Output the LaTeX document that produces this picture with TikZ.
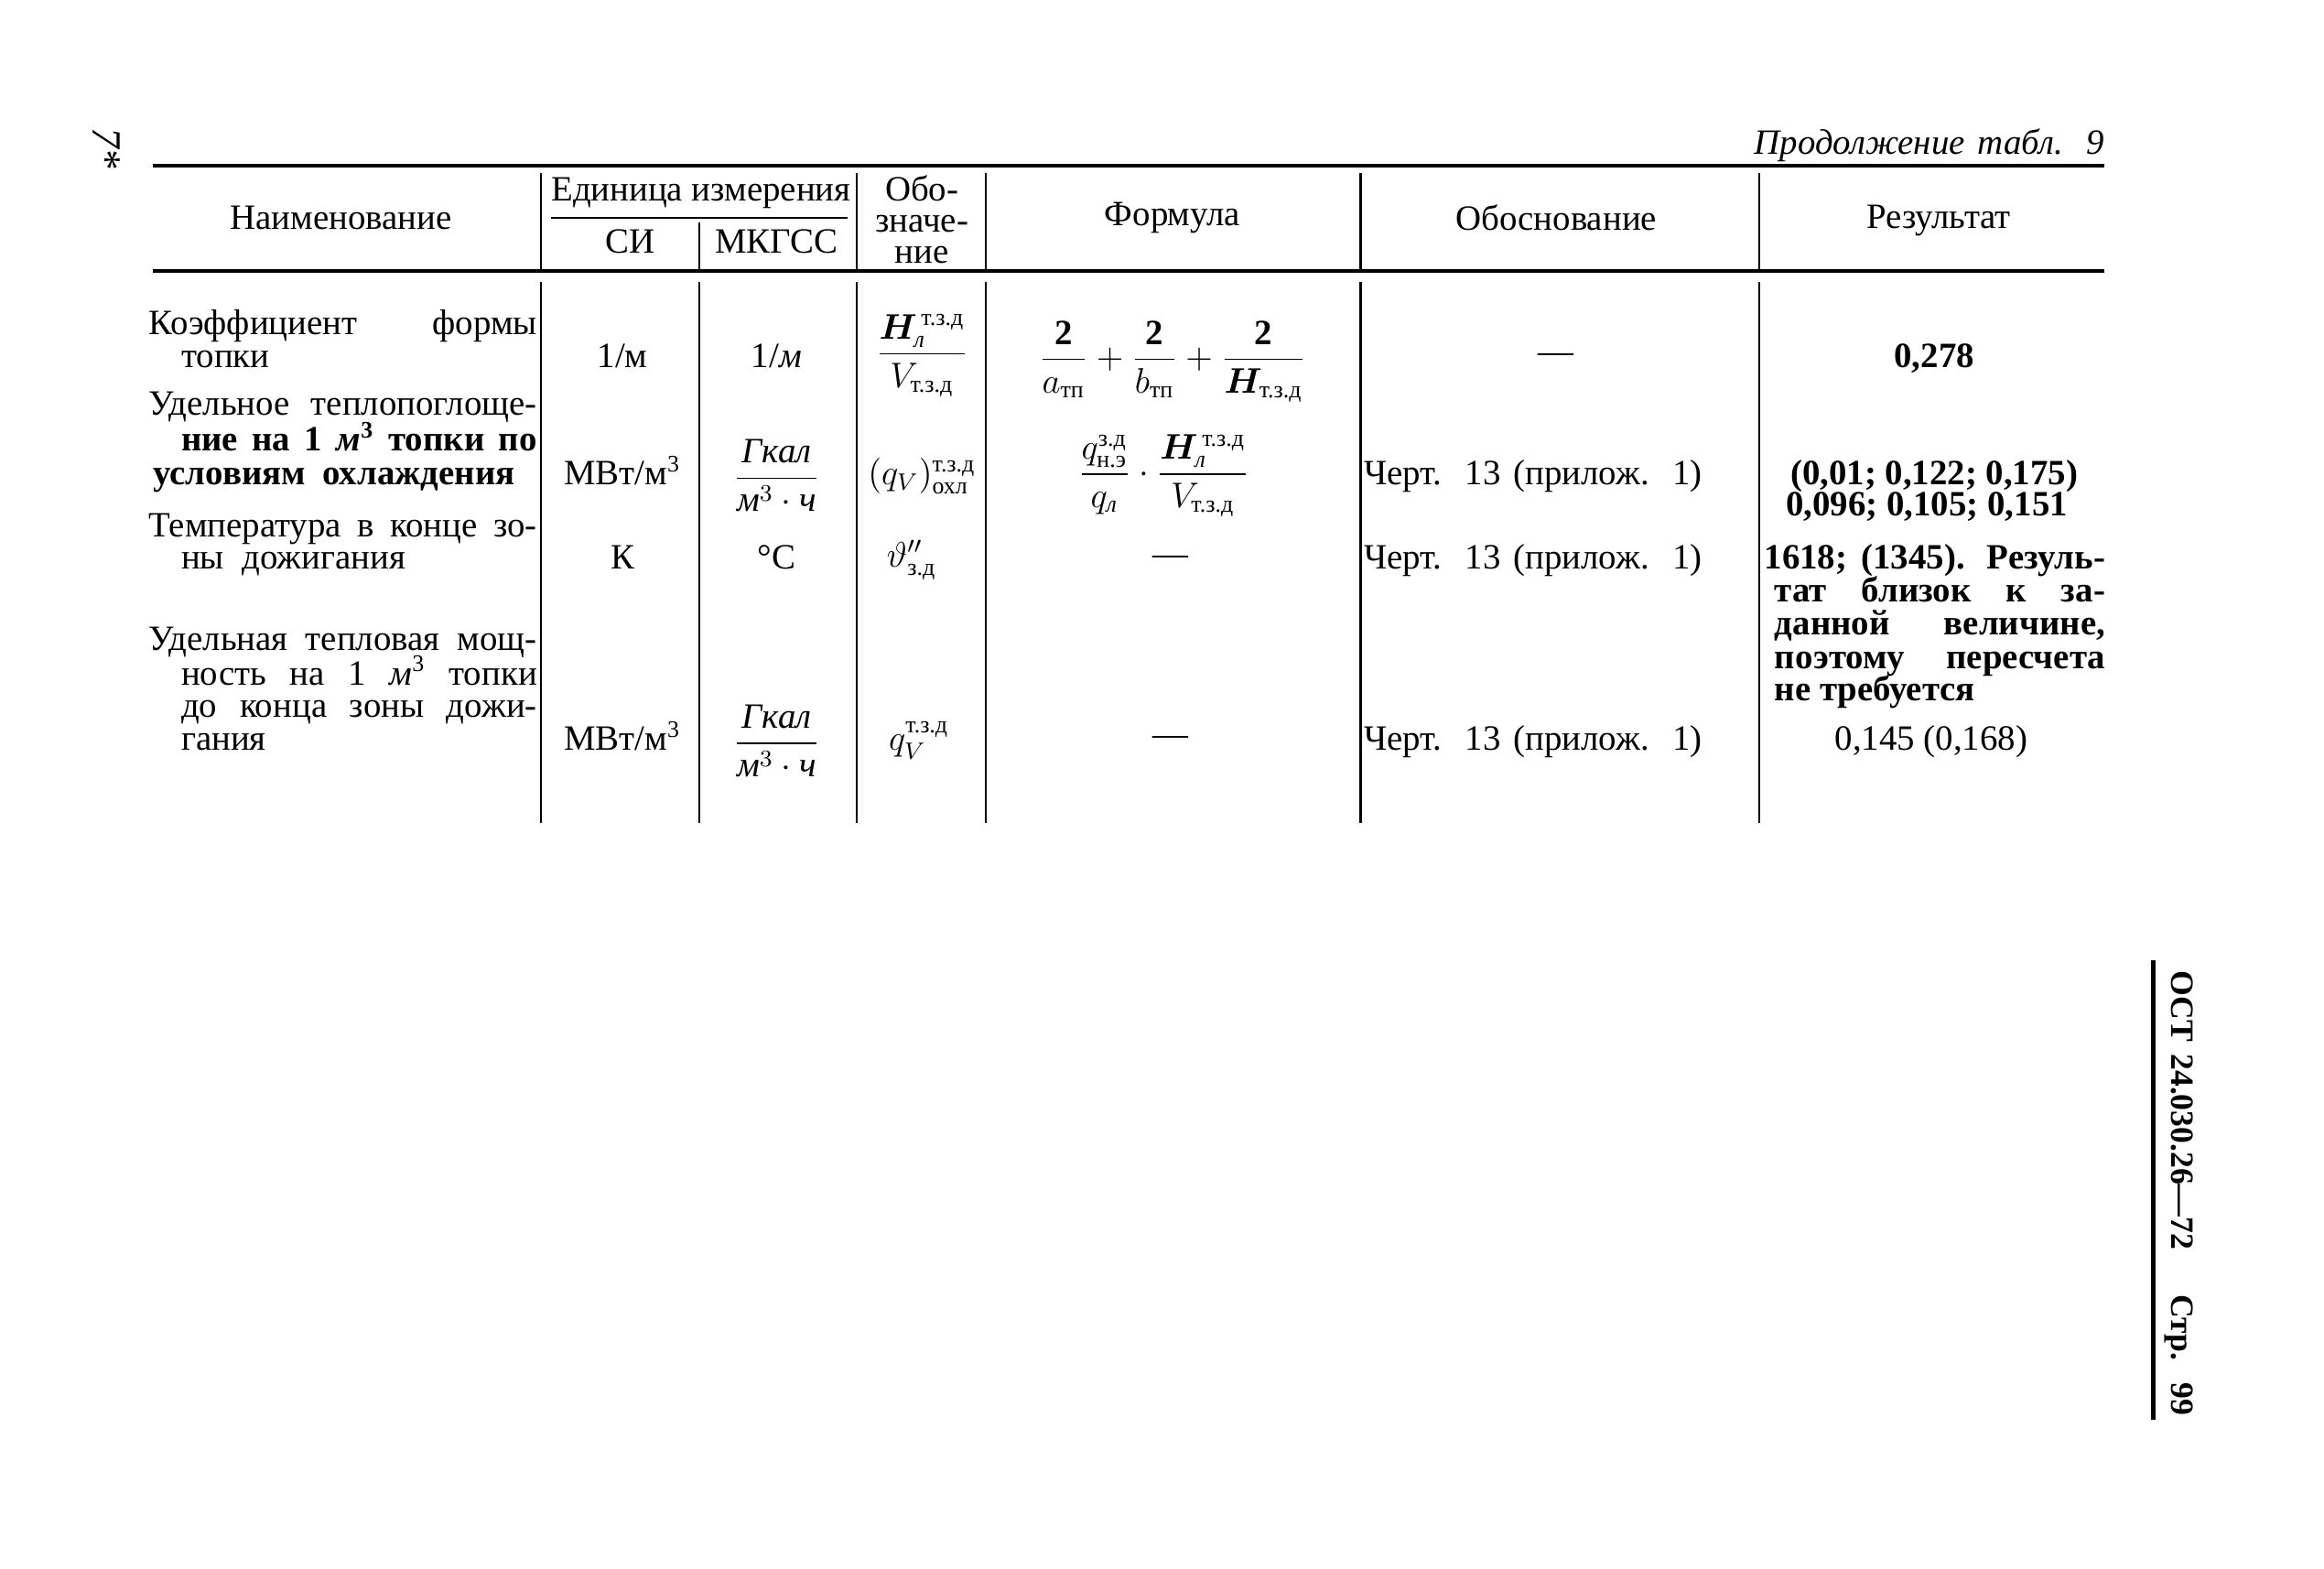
\documentclass[tikz,border=0pt]{standalone}
\usepackage{amsmath}
\usepackage{bm}
\usepackage{fontspec}
\setmainfont{Liberation Serif}
\usepackage{tikz}
\usetikzlibrary{positioning}

% stretch a line of text to a given width
\newcommand{\jline}[2]{\makebox[#1][s]{#2}}

\tikzset{
  txt/.style={inner sep=0pt, font=\fontsize{12pt}{11pt}\selectfont},
  heavyrule/.style={line width=1.3pt},
  subrule/.style={line width=0.9pt},
  colline/.style={line width=0.7pt},
}

\begin{document}
\begin{tikzpicture}[x=0.5pt,y=-0.5pt]
      \useasboundingbox (0,0) rectangle (1568,1058);

      % Page marks
      \node[txt, rotate=-90, font=\fontsize{14pt}{14pt}\selectfont\itshape] (pgmark) at (72,100) {7*};
      \node[txt, anchor=base east] (cont) at (1420,104) {\jline{118pt}{\itshape Продолжение табл. 9}};

      % Rules of the header
      \draw[heavyrule] (103,112) -- (1420,112);
      \draw[heavyrule] (103,183) -- (1420,183);
      \draw[subrule] (372,147) -- (572,147);

      % Column lines:
      % header part and body part are drawn apart
      \foreach \cx in {365,578,665,918,1187}
        \draw[colline] (\cx,117) -- (\cx,183);
      \draw[colline] (472,150) -- (472,183);
      \foreach \cx in {365,472,578,665,918,1187}
        \draw[colline] (\cx,190) -- (\cx,555);

      % Header texts
      \node[txt] (hname) at (230,147) {Наименование};
      \node[txt] (hunit) at (473,130) {Единица измерения};
      \node[txt] (hsi) at (425,163) {СИ};
      \node[txt] (hmkgss) at (524,163) {МКГСС};
      \node[txt, align=center, font=\fontsize{12pt}{10.5pt}\selectfont] (hsym) at (622,148) {Обо-\\значе-\\ние};
      \node[txt] (hformula) at (791,147) {Формула};
      \node[txt] (hbasis) at (1050,147) {Обоснование};
      \node[txt] (hresult) at (1308,149) {Результат};

      % Row 1
      \node[txt, anchor=base west] (nameA1) at (100,226) {\jline{131pt}{Коэффициент формы}};
      \node[txt, anchor=base west] (nameA2) at (122,248) {топки};
      \node[txt, anchor=base] (siA) at (420,248) {1/м};
      \node[txt, anchor=base] (mkA) at (524,248) {1/\textit{м}};
      \node[txt] (symA) at (622,240) {$\dfrac{\bm{H}_{\text{\itshape л}}^{\,\text{т.з.д}}}{V_{\text{т.з.д}}}$};
      \node[txt] (formA) at (791,244) {$\dfrac{\mathbf{2}}{a_{\text{тп}}}+\dfrac{\mathbf{2}}{b_{\text{тп}}}+\dfrac{\mathbf{2}}{\bm{H}_{\text{т.з.д}}}$};
      \node[txt] (basisA) at (1050,242) {—};
      \node[txt, anchor=base] (resA) at (1305,248) {\bfseries 0,278};

      % Row 2
      \node[txt, anchor=base west] (nameB1) at (100,280) {\jline{131pt}{Удельное теплопоглоще-}};
      \node[txt, anchor=base west] (nameB2) at (122,304) {\jline{120pt}{\bfseries ние на 1 \textit{м}\textsuperscript{3} топки по}};
      \node[txt, anchor=base west] (nameB3) at (103,327) {\jline{122pt}{\bfseries условиям охлаждения}};
      \node[txt, anchor=base] (siB) at (420,327) {МВт/м\textsuperscript{3}};
      \node[txt] (mkB) at (524,321) {$\dfrac{\text{\itshape Гкал}}{\text{\itshape м}^3\cdot\text{\itshape ч}}$};
      \node[txt] (symB) at (622,321) {$(q_V)^{\text{т.з.д}}_{\text{охл}}$};
      \node[txt] (formB) at (785,321) {$\dfrac{q^{\text{з.д}}_{\text{н.э}}}{q_{\text{\itshape л}}}\cdot\dfrac{\bm{H}^{\,\text{т.з.д}}_{\text{\itshape л}}}{V_{\text{т.з.д}}}$};
      \node[txt, anchor=base west] (basisB) at (920,327) {\jline{114pt}{Черт. 13 (прилож. 1)}};
      \node[txt, anchor=base] (resB1) at (1305,327) {\bfseries (0,01; 0,122; 0,175)};
      \node[txt, anchor=base] (resB2) at (1300,348) {\bfseries 0,096; 0,105; 0,151};

      % Row 3
      \node[txt, anchor=base west] (nameC1) at (100,362) {\jline{131pt}{Температура в конце зо-}};
      \node[txt, anchor=base west] (nameC2) at (122,384) {ны\ \ дожигания};
      \node[txt, anchor=base] (siC) at (420,384) {К};
      \node[txt, anchor=base] (mkC) at (524,384) {°C};
      \node[txt] (symC) at (615,378) {$\vartheta''_{\text{з.д}}$};
      \node[txt] (formC) at (790,378) {—};
      \node[txt, anchor=base west] (basisC) at (920,384) {\jline{114pt}{Черт. 13 (прилож. 1)}};
      \node[txt, anchor=base west] (resC1) at (1190,384) {\jline{115pt}{\bfseries 1618; (1345). Резуль-}};
      \node[txt, anchor=base west] (resC2) at (1197,406) {\jline{111.5pt}{\bfseries тат близок к за-}};
      \node[txt, anchor=base west] (resC3) at (1197,428) {\jline{111.5pt}{\bfseries данной величине,}};
      \node[txt, anchor=base west] (resC4) at (1197,451) {\jline{111.5pt}{\bfseries поэтому пересчета}};
      \node[txt, anchor=base west] (resC5) at (1197,473) {\bfseries не требуется};

      % Row 4
      \node[txt, anchor=base west] (nameD1) at (100,439) {\jline{131pt}{Удельная тепловая мощ-}};
      \node[txt, anchor=base west] (nameD2) at (122,462) {\jline{120pt}{ность на 1 \textit{м}\textsuperscript{3} топки}};
      \node[txt, anchor=base west] (nameD3) at (122,484) {\jline{120pt}{до конца зоны дожи-}};
      \node[txt, anchor=base west] (nameD4) at (122,506) {гания};
      \node[txt, anchor=base] (siD) at (420,506) {МВт/м\textsuperscript{3}};
      \node[txt] (mkD) at (524,500) {$\dfrac{\text{\itshape Гкал}}{\text{\itshape м}^3\cdot\text{\itshape ч}}$};
      \node[txt, anchor=base] (symD) at (620,506) {$q_V^{\text{т.з.д}}$};
      \node[txt] (formD) at (790,500) {—};
      \node[txt, anchor=base west] (basisD) at (920,506) {\jline{114pt}{Черт. 13 (прилож. 1)}};
      \node[txt, anchor=base] (resD) at (1303,506) {0,145 (0,168)};

      % Side mark
      \draw[line width=1.6pt] (1453,648) -- (1453,958);
      \node[txt, rotate=-90, font=\fontsize{11pt}{11pt}\selectfont\bfseries] (ost) at (1470,805) {\jline{150pt}{ОСТ 24.030.26—72 \quad Стр. 99}};
    \end{tikzpicture}
\end{document}
